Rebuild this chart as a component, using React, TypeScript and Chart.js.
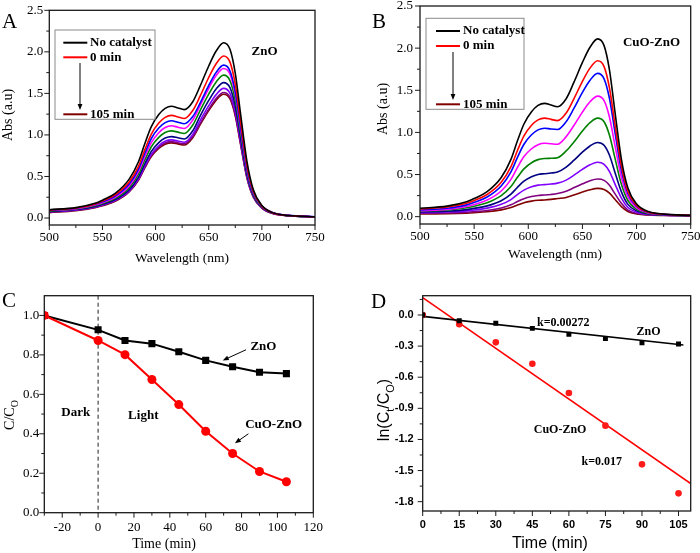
import React, { useEffect, useRef } from "react";
import { Chart, registerables } from "chart.js";

Chart.register(...registerables);

const OFF = 50;
const CW = 800;
const CH = 653;
const YW = 45;
const XH = 30;
const SERIF = "'Liberation Serif', 'Times New Roman', Times, serif";
const SANS = "'Liberation Sans', Arial, Helvetica, sans-serif";

// ---------- Panels A & B: UV-vis spectra ----------
const WAVELENGTHS = [500, 525, 543, 550, 562, 575, 584, 590, 596, 603, 609, 615, 621, 627, 635, 642, 650, 657, 664, 670, 675, 680, 686, 692, 700, 710, 725, 750];
const SERIES_LABELS = ["No catalyst", "0 min", "15 min", "30 min", "45 min", "60 min", "75 min", "90 min", "105 min"];
const SERIES_COLORS = ["#000000", "#ff0000", "#0000ff", "#ff00ff", "#008000", "#000080", "#8000ff", "#800080", "#800000"];

const A_NO_CAT = [0.100, 0.125, 0.177, 0.215, 0.297, 0.465, 0.680, 0.900, 1.100, 1.245, 1.320, 1.345, 1.325, 1.305, 1.400, 1.590, 1.830, 2.010, 2.110, 2.030, 1.740, 1.250, 0.680, 0.340, 0.150, 0.065, 0.030, 0.015];
const A_0 = [0.095, 0.120, 0.170, 0.205, 0.280, 0.430, 0.625, 0.826, 1.010, 1.143, 1.212, 1.235, 1.216, 1.198, 1.294, 1.469, 1.691, 1.857, 1.950, 1.876, 1.608, 1.155, 0.628, 0.320, 0.145, 0.064, 0.030, 0.015];
const A_15 = [0.095, 0.118, 0.165, 0.195, 0.265, 0.405, 0.592, 0.783, 0.957, 1.083, 1.148, 1.170, 1.153, 1.135, 1.221, 1.386, 1.596, 1.753, 1.840, 1.770, 1.517, 1.090, 0.593, 0.305, 0.145, 0.066, 0.032, 0.016];
const A_30 = [0.090, 0.113, 0.157, 0.185, 0.250, 0.384, 0.561, 0.743, 0.908, 1.027, 1.089, 1.110, 1.093, 1.077, 1.180, 1.356, 1.561, 1.715, 1.800, 1.732, 1.484, 1.066, 0.580, 0.298, 0.140, 0.064, 0.030, 0.015];
const A_45 = [0.085, 0.108, 0.148, 0.175, 0.236, 0.363, 0.530, 0.702, 0.858, 0.971, 1.030, 1.049, 1.034, 1.018, 1.120, 1.296, 1.491, 1.638, 1.720, 1.654, 1.418, 1.019, 0.554, 0.285, 0.135, 0.062, 0.029, 0.015];
const A_60 = [0.080, 0.102, 0.140, 0.165, 0.222, 0.339, 0.496, 0.656, 0.802, 0.908, 0.962, 0.980, 0.966, 0.951, 1.050, 1.229, 1.415, 1.554, 1.630, 1.569, 1.345, 0.966, 0.526, 0.272, 0.130, 0.060, 0.029, 0.015];
const A_75 = [0.075, 0.097, 0.134, 0.158, 0.212, 0.325, 0.475, 0.629, 0.769, 0.870, 0.923, 0.940, 0.926, 0.912, 1.007, 1.175, 1.352, 1.485, 1.560, 1.500, 1.286, 0.924, 0.503, 0.262, 0.125, 0.058, 0.028, 0.015];
const A_90 = [0.070, 0.093, 0.130, 0.153, 0.206, 0.318, 0.465, 0.616, 0.752, 0.852, 0.903, 0.920, 0.906, 0.893, 0.980, 1.138, 1.310, 1.439, 1.510, 1.453, 1.246, 0.895, 0.487, 0.255, 0.122, 0.057, 0.028, 0.015];
const A_105 = [0.065, 0.088, 0.125, 0.148, 0.200, 0.313, 0.458, 0.606, 0.740, 0.838, 0.888, 0.905, 0.892, 0.878, 0.966, 1.123, 1.292, 1.419, 1.490, 1.433, 1.228, 0.883, 0.480, 0.250, 0.120, 0.056, 0.028, 0.015];

const B_NO_CAT = [0.100, 0.125, 0.177, 0.215, 0.297, 0.465, 0.680, 0.900, 1.100, 1.245, 1.320, 1.345, 1.325, 1.305, 1.400, 1.590, 1.830, 2.010, 2.110, 2.030, 1.740, 1.250, 0.680, 0.340, 0.150, 0.065, 0.030, 0.015];
const B_0 = [0.092, 0.114, 0.159, 0.192, 0.263, 0.408, 0.594, 0.785, 0.958, 1.084, 1.149, 1.170, 1.155, 1.140, 1.230, 1.396, 1.606, 1.763, 1.851, 1.781, 1.527, 1.098, 0.600, 0.299, 0.133, 0.058, 0.028, 0.015];
const B_15 = [0.080, 0.100, 0.140, 0.170, 0.233, 0.364, 0.532, 0.703, 0.859, 0.972, 1.030, 1.050, 1.040, 1.035, 1.128, 1.281, 1.474, 1.619, 1.700, 1.636, 1.402, 1.007, 0.547, 0.276, 0.123, 0.055, 0.027, 0.014];
const B_30 = [0.070, 0.086, 0.120, 0.144, 0.197, 0.305, 0.443, 0.584, 0.713, 0.806, 0.854, 0.871, 0.865, 0.860, 0.950, 1.079, 1.241, 1.363, 1.431, 1.377, 1.180, 0.849, 0.463, 0.234, 0.105, 0.048, 0.024, 0.014];
const B_45 = [0.066, 0.079, 0.105, 0.124, 0.165, 0.249, 0.357, 0.467, 0.567, 0.640, 0.677, 0.690, 0.693, 0.700, 0.780, 0.884, 1.016, 1.115, 1.169, 1.126, 0.966, 0.697, 0.384, 0.192, 0.088, 0.041, 0.022, 0.014];
const B_60 = [0.056, 0.065, 0.084, 0.098, 0.128, 0.189, 0.268, 0.348, 0.421, 0.474, 0.501, 0.510, 0.518, 0.530, 0.589, 0.667, 0.765, 0.839, 0.880, 0.847, 0.728, 0.528, 0.294, 0.146, 0.069, 0.034, 0.019, 0.013];
const B_75 = [0.048, 0.055, 0.069, 0.079, 0.101, 0.146, 0.203, 0.262, 0.315, 0.354, 0.374, 0.380, 0.387, 0.398, 0.434, 0.491, 0.562, 0.615, 0.645, 0.621, 0.535, 0.390, 0.220, 0.109, 0.053, 0.028, 0.017, 0.013];
const B_90 = [0.040, 0.044, 0.053, 0.060, 0.074, 0.104, 0.141, 0.179, 0.214, 0.239, 0.252, 0.257, 0.264, 0.275, 0.303, 0.342, 0.390, 0.427, 0.447, 0.431, 0.372, 0.273, 0.158, 0.078, 0.040, 0.023, 0.016, 0.012];
const B_105 = [0.032, 0.035, 0.042, 0.047, 0.058, 0.081, 0.109, 0.138, 0.165, 0.184, 0.194, 0.198, 0.205, 0.215, 0.228, 0.257, 0.293, 0.320, 0.336, 0.323, 0.280, 0.206, 0.120, 0.062, 0.033, 0.020, 0.015, 0.012];

const SPEC_X_TICKS = [500, 550, 600, 650, 700, 750];
const SPEC_X_MINOR = [525, 575, 625, 675, 725];
const SPEC_Y_TICKS = [0, 0.5, 1.0, 1.5, 2.0, 2.5];
const SPEC_Y_MINOR = [0.25, 0.75, 1.25, 1.75, 2.25];

// ---------- Panel C: C/C0 vs time ----------
const C_TIME = [-30, 0, 15, 30, 45, 60, 75, 90, 105];
const C_ZNO = [1.0, 0.927, 0.873, 0.857, 0.816, 0.772, 0.740, 0.712, 0.705];
const C_CUO_ZNO = [1.0, 0.873, 0.801, 0.675, 0.548, 0.413, 0.300, 0.209, 0.157];
const C_X_TICKS = [-20, 0, 20, 40, 60, 80, 100, 120];
const C_X_MINOR = [-30, -10, 10, 30, 50, 70, 90, 110];
const C_Y_TICKS = [0, 0.2, 0.4, 0.6, 0.8, 1.0];
const C_Y_MINOR = [0.1, 0.3, 0.5, 0.7, 0.9];

// ---------- Panel D: ln(Ct/C0) vs time ----------
const D_TIME = [0, 15, 30, 45, 60, 75, 90, 105];
const D_ZNO = [0, -0.055, -0.08, -0.129, -0.186, -0.228, -0.267, -0.28];
const D_CUO_ZNO = [0, -0.09, -0.264, -0.47, -0.752, -1.067, -1.44, -1.72];
const D_FIT_ZNO_X = [0, 107];
const D_FIT_ZNO_Y = [-0.013, -0.29];
const D_FIT_CUO_X = [0, 110];
const D_FIT_CUO_Y = [0.167, -1.626];
const D_X_TICKS = [0, 15, 30, 45, 60, 75, 90, 105];
const D_X_MINOR = [7.5, 22.5, 37.5, 52.5, 67.5, 82.5, 97.5];
const D_Y_TICKS = [-1.8, -1.5, -1.2, -0.9, -0.6, -0.3, 0];
const D_Y_MINOR = [-1.65, -1.35, -1.05, -0.75, -0.45, -0.15, 0.15];

// ---------- helpers ----------
const px = (v: number) => v + OFF;
const xy = (xs: number[], ys: number[]) => xs.map((x, i) => ({ x, y: ys[i] }));

function drawText(ctx: any, s: string, x: number, y: number, font: string, align: any = "center", baseline: any = "middle", color = "#000") {
  ctx.save();
  ctx.font = font;
  ctx.fillStyle = color;
  ctx.textAlign = align;
  ctx.textBaseline = baseline;
  ctx.fillText(s, x, y);
  ctx.restore();
}

type Part = { t: string; sub?: boolean };
function drawRich(ctx: any, parts: Part[], cx: number, cy: number, family: string, size: number, subSize: number, weight: string, rotate: boolean) {
  ctx.save();
  ctx.translate(cx, cy);
  if (rotate) ctx.rotate(-Math.PI / 2);
  const fontOf = (p: Part) => `${weight} ${p.sub ? subSize : size}px ${family}`;
  let w = 0;
  for (const p of parts) {
    ctx.font = fontOf(p);
    w += ctx.measureText(p.t).width;
  }
  let x = -w / 2;
  ctx.fillStyle = "#000";
  ctx.textAlign = "left";
  ctx.textBaseline = "alphabetic";
  const base = size * 0.34;
  for (const p of parts) {
    ctx.font = fontOf(p);
    ctx.fillText(p.t, x, base + (p.sub ? size * 0.28 : 0));
    x += ctx.measureText(p.t).width;
  }
  ctx.restore();
}

function drawArrow(ctx: any, x1: number, y1: number, x2: number, y2: number, head = 6, lw = 1) {
  const a = Math.atan2(y2 - y1, x2 - x1);
  const c = Math.cos(a), s = Math.sin(a);
  ctx.save();
  ctx.strokeStyle = "#000";
  ctx.fillStyle = "#000";
  ctx.lineWidth = lw;
  ctx.beginPath();
  ctx.moveTo(x1, y1);
  ctx.lineTo(x2 - c * head * 0.8, y2 - s * head * 0.8);
  ctx.stroke();
  ctx.beginPath();
  ctx.moveTo(x2, y2);
  ctx.lineTo(x2 - head * c + head * 0.4 * s, y2 - head * s - head * 0.4 * c);
  ctx.lineTo(x2 - head * c - head * 0.4 * s, y2 - head * s + head * 0.4 * c);
  ctx.closePath();
  ctx.fill();
  ctx.restore();
}

function drawSpectraLegend(ctx: any, box: number[], lx1: number, lx2: number, tx: number, rows: { y: number; color: string; label: string }[], ax: number, ay1: number, ay2: number) {
  ctx.save();
  ctx.strokeStyle = "#8a8a8a";
  ctx.lineWidth = 1;
  ctx.strokeRect(px(box[0]), px(box[1]), box[2] - box[0], box[3] - box[1]);
  for (const r of rows) {
    ctx.strokeStyle = r.color;
    ctx.lineWidth = 2;
    ctx.beginPath();
    ctx.moveTo(px(lx1), px(r.y));
    ctx.lineTo(px(lx2), px(r.y));
    ctx.stroke();
    drawText(ctx, r.label, px(tx), px(r.y), `bold 13px ${SERIF}`, "left", "middle");
  }
  ctx.restore();
  drawArrow(ctx, px(ax), px(ay1), px(ax), px(ay2), 6, 1);
}

function spectrumDatasets(curves: number[][]) {
  return curves.map((vals, i) => ({
    label: SERIES_LABELS[i],
    data: xy(WAVELENGTHS, vals),
    borderColor: SERIES_COLORS[i],
    backgroundColor: SERIES_COLORS[i],
    borderWidth: 1.6,
    pointRadius: 0,
    cubicInterpolationMode: "monotone",
    fill: false,
  }));
}

interface AxisSpec { min: number; max: number; ticks: number[]; minor: number[]; fmt: (v: number) => string; pad: number }
interface PanelSpec {
  target: { l: number; t: number; r: number; b: number };
  x: AxisSpec;
  y: AxisSpec;
  tickFont: any;
  datasets: any[];
  before?: (ctx: any, chart: any) => void;
  deco: (ctx: any, chart: any) => void;
}

function drawFrameAndTicks(chart: any, spec: PanelSpec) {
  const { ctx, chartArea: a, scales } = chart;
  const sx = scales.x, sy = scales.y;
  ctx.save();
  ctx.strokeStyle = "#1a1a1a";
  ctx.lineWidth = 1;
  ctx.beginPath();
  for (const v of spec.x.ticks) { const p = sx.getPixelForValue(v); ctx.moveTo(p, a.bottom); ctx.lineTo(p, a.bottom + 5); }
  for (const v of spec.x.minor) { const p = sx.getPixelForValue(v); ctx.moveTo(p, a.bottom); ctx.lineTo(p, a.bottom + 3); }
  for (const v of spec.y.ticks) { const p = sy.getPixelForValue(v); ctx.moveTo(a.left, p); ctx.lineTo(a.left - 5, p); }
  for (const v of spec.y.minor) { const p = sy.getPixelForValue(v); ctx.moveTo(a.left, p); ctx.lineTo(a.left - 3, p); }
  ctx.stroke();
  ctx.lineWidth = 1.3;
  ctx.strokeRect(a.left, a.top, a.right - a.left, a.bottom - a.top);
  ctx.restore();
}

function buildConfig(spec: PanelSpec): any {
  const t = spec.target;
  const padding = { left: t.l + OFF - YW, top: t.t + OFF, right: CW - (t.r + OFF), bottom: CH - (t.b + OFF) - XH };
  const axis = (a: AxisSpec, horizontal: boolean) => ({
    type: "linear",
    position: horizontal ? "bottom" : "left",
    min: a.min,
    max: a.max,
    afterBuildTicks: (s: any) => { s.ticks = a.ticks.map((v) => ({ value: v })); },
    afterFit: (s: any) => { if (horizontal) s.height = XH; else s.width = YW; },
    grid: { display: false, drawTicks: false },
    border: { display: false },
    ticks: { font: spec.tickFont, color: "#000", padding: a.pad, maxRotation: 0, autoSkip: false, callback: (v: any) => a.fmt(Number(v)) },
  });
  return {
    type: "line",
    data: { datasets: spec.datasets },
    options: {
      animation: false,
      responsive: false,
      maintainAspectRatio: false,
      devicePixelRatio: 1,
      events: [],
      layout: { padding },
      plugins: { legend: { display: false }, tooltip: { enabled: false }, title: { display: false } },
      scales: { x: axis(spec.x, true), y: axis(spec.y, false) },
    },
    plugins: [
      {
        id: "panelDeco",
        beforeDatasetsDraw: (chart: any) => { if (spec.before) spec.before(chart.ctx, chart); },
        afterDraw: (chart: any) => { drawFrameAndTicks(chart, spec); spec.deco(chart.ctx, chart); },
      },
    ],
  };
}

const f1 = (v: number) => v.toFixed(1);
const f0 = (v: number) => String(Math.round(v));
const serifTicks = { family: SERIF, size: 13, weight: "normal" };

// ---------- panel specs ----------
const PANEL_A: PanelSpec = {
  target: { l: 49.3, t: 10.3, r: 315, b: 225 },
  x: { min: 500, max: 750, ticks: SPEC_X_TICKS, minor: SPEC_X_MINOR, fmt: f0, pad: 4.7 },
  y: { min: -0.084, max: 2.5, ticks: SPEC_Y_TICKS, minor: SPEC_Y_MINOR, fmt: f1, pad: 6 },
  tickFont: serifTicks,
  datasets: spectrumDatasets([A_NO_CAT, A_0, A_15, A_30, A_45, A_60, A_75, A_90, A_105]),
  deco: (ctx, chart) => {
    drawText(ctx, "A", px(2), px(28), `21px ${SERIF}`, "left", "alphabetic");
    drawText(ctx, "Wavelength (nm)", px(182), px(261.5), `13.5px ${SERIF}`, "center", "alphabetic");
    drawRich(ctx, [{ t: "Abs (a.u)" }], px(7.5), px(115), SERIF, 14, 10, "normal", true);
    drawSpectraLegend(ctx, [55, 30, 155, 119.3], 63.3, 87.3, 90,
      [
        { y: 42.7, color: SERIES_COLORS[0], label: SERIES_LABELS[0] },
        { y: 57.3, color: SERIES_COLORS[1], label: SERIES_LABELS[1] },
        { y: 114.3, color: SERIES_COLORS[8], label: SERIES_LABELS[8] },
      ], 80, 63, 110);
    const sx = chart.scales.x, sy = chart.scales.y;
    drawText(ctx, "ZnO", sx.getPixelForValue(702.5), sy.getPixelForValue(2.0), `bold 13px ${SERIF}`);
  },
};

const PANEL_B: PanelSpec = {
  target: { l: 420, t: 6, r: 690.7, b: 224 },
  x: { min: 500, max: 750, ticks: SPEC_X_TICKS, minor: SPEC_X_MINOR, fmt: f0, pad: 4.7 },
  y: { min: -0.087, max: 2.5, ticks: SPEC_Y_TICKS, minor: SPEC_Y_MINOR, fmt: f1, pad: 7 },
  tickFont: serifTicks,
  datasets: spectrumDatasets([B_NO_CAT, B_0, B_15, B_30, B_45, B_60, B_75, B_90, B_105]),
  deco: (ctx, chart) => {
    drawText(ctx, "B", px(372), px(28), `21px ${SERIF}`, "left", "alphabetic");
    drawText(ctx, "Wavelength (nm)", px(555), px(257.5), `13.5px ${SERIF}`, "center", "alphabetic");
    drawRich(ctx, [{ t: "Abs (a.u)" }], px(382.5), px(109), SERIF, 14, 10, "normal", true);
    drawSpectraLegend(ctx, [426, 18.3, 524, 109.3], 436, 460, 463,
      [
        { y: 31, color: SERIES_COLORS[0], label: SERIES_LABELS[0] },
        { y: 46, color: SERIES_COLORS[1], label: SERIES_LABELS[1] },
        { y: 104.3, color: SERIES_COLORS[8], label: SERIES_LABELS[8] },
      ], 453, 52, 100);
    const sx = chart.scales.x, sy = chart.scales.y;
    drawText(ctx, "CuO-ZnO", sx.getPixelForValue(713.8), sy.getPixelForValue(2.06), `bold 13px ${SERIF}`);
  },
};

const PANEL_C: PanelSpec = {
  target: { l: 44.3, t: 295.7, r: 313.3, b: 512.7 },
  x: { min: -30, max: 120, ticks: C_X_TICKS, minor: C_X_MINOR, fmt: f0, pad: 7 },
  y: { min: 0, max: 1.1, ticks: C_Y_TICKS, minor: C_Y_MINOR, fmt: f1, pad: 5 },
  tickFont: serifTicks,
  datasets: [
    {
      label: "CuO-ZnO",
      data: xy(C_TIME, C_CUO_ZNO),
      borderColor: "#ff0000",
      backgroundColor: "#ff0000",
      borderWidth: 2,
      pointStyle: "circle",
      pointRadius: 4.5,
      pointBorderWidth: 0,
      pointBackgroundColor: "#ff0000",
    },
    {
      label: "ZnO",
      data: xy(C_TIME, C_ZNO),
      borderColor: "#000000",
      backgroundColor: "#000000",
      borderWidth: 2,
      pointStyle: "rect",
      pointRadius: 5,
      pointBorderWidth: 0,
      pointBackgroundColor: "#000000",
    },
  ],
  before: (ctx, chart) => {
    const sx = chart.scales.x, a = chart.chartArea;
    const p = sx.getPixelForValue(0);
    ctx.save();
    ctx.strokeStyle = "#222";
    ctx.lineWidth = 1;
    ctx.setLineDash([4, 3]);
    ctx.beginPath();
    ctx.moveTo(p, a.top);
    ctx.lineTo(p, a.bottom);
    ctx.stroke();
    ctx.restore();
  },
  deco: (ctx, chart) => {
    const sx = chart.scales.x, sy = chart.scales.y;
    const X = (v: number) => sx.getPixelForValue(v), Y = (v: number) => sy.getPixelForValue(v);
    drawText(ctx, "C", px(2), px(307), `21px ${SERIF}`, "left", "alphabetic");
    drawText(ctx, "Time (min)", px(164), px(547.5), `14px ${SERIF}`, "center", "alphabetic");
    drawRich(ctx, [{ t: "C/C" }, { t: "O", sub: true }], px(9), px(415), SERIF, 14, 10, "normal", true);
    const bf = `bold 13px ${SERIF}`;
    drawText(ctx, "Dark", X(-12.5), Y(0.506), bf);
    drawText(ctx, "Light", X(25.2), Y(0.494), bf);
    drawText(ctx, "ZnO", X(92.2), Y(0.841), bf);
    drawArrow(ctx, X(82.5), Y(0.826), X(69.5), Y(0.772), 6, 1);
    drawText(ctx, "CuO-ZnO", X(97.9), Y(0.444), bf);
    drawArrow(ctx, X(83.8), Y(0.400), X(76.3), Y(0.352), 6, 1);
  },
};

const PANEL_D: PanelSpec = {
  target: { l: 422.7, t: 295.7, r: 690.7, b: 511 },
  x: { min: 0, max: 110, ticks: D_X_TICKS, minor: D_X_MINOR, fmt: f0, pad: 7.5 },
  y: { min: -1.89, max: 0.186, ticks: D_Y_TICKS, minor: D_Y_MINOR, fmt: f1, pad: 9 },
  tickFont: { family: SANS, size: 11, weight: "bold" },
  datasets: [
    {
      label: "ZnO",
      data: xy(D_TIME, D_ZNO),
      showLine: false,
      pointStyle: "rect",
      pointRadius: 3.5,
      pointBorderWidth: 0,
      pointBackgroundColor: "#000000",
      borderColor: "#000000",
      backgroundColor: "#000000",
    },
    {
      label: "CuO-ZnO",
      data: xy(D_TIME, D_CUO_ZNO),
      showLine: false,
      pointStyle: "circle",
      pointRadius: 3.3,
      pointBorderWidth: 0,
      pointBackgroundColor: "#ff1a1a",
      borderColor: "#ff1a1a",
      backgroundColor: "#ff1a1a",
    },
    {
      label: "ZnO fit",
      data: xy(D_FIT_ZNO_X, D_FIT_ZNO_Y),
      borderColor: "#000000",
      borderWidth: 1.6,
      pointRadius: 0,
    },
    {
      label: "CuO-ZnO fit",
      data: xy(D_FIT_CUO_X, D_FIT_CUO_Y),
      borderColor: "#ff0000",
      borderWidth: 1.6,
      pointRadius: 0,
    },
  ],
  deco: (ctx, chart) => {
    const sx = chart.scales.x, sy = chart.scales.y;
    const X = (v: number) => sx.getPixelForValue(v), Y = (v: number) => sy.getPixelForValue(v);
    drawText(ctx, "D", px(371), px(308), `21px ${SERIF}`, "left", "alphabetic");
    drawText(ctx, "Time (min)", px(550), px(548), `16px ${SANS}`, "center", "alphabetic");
    drawRich(ctx, [{ t: "ln(C" }, { t: "t", sub: true }, { t: "/C" }, { t: "O", sub: true }, { t: ")" }], px(384), px(410), SANS, 16, 11, "normal", true);
    const bf = `bold 12px ${SERIF}`;
    drawText(ctx, "k=0.00272", X(57.7), Y(-0.077), bf);
    drawText(ctx, "ZnO", X(92.7), Y(-0.161), bf);
    drawText(ctx, "CuO-ZnO", X(56.4), Y(-1.109), bf);
    drawText(ctx, "k=0.017", X(73.5), Y(-1.418), bf);
  },
};

function Panel({ spec }: { spec: PanelSpec }) {
  const ref = useRef<HTMLCanvasElement>(null);
  useEffect(() => {
    if (!ref.current) return;
    const chart = new Chart(ref.current, buildConfig(spec));
    return () => chart.destroy();
  }, [spec]);
  return (
    <canvas
      ref={ref}
      width={CW}
      height={CH}
      style={{ position: "absolute", left: -OFF, top: -OFF, width: CW, height: CH }}
    />
  );
}

export default function App() {
  return (
    <div
      style={{
        position: "absolute",
        left: 0,
        top: 0,
        width: 700,
        height: 553,
        overflow: "hidden",
        background: "#ffffff",
      }}
    >
      <Panel spec={PANEL_A} />
      <Panel spec={PANEL_B} />
      <Panel spec={PANEL_C} />
      <Panel spec={PANEL_D} />
    </div>
  );
}
